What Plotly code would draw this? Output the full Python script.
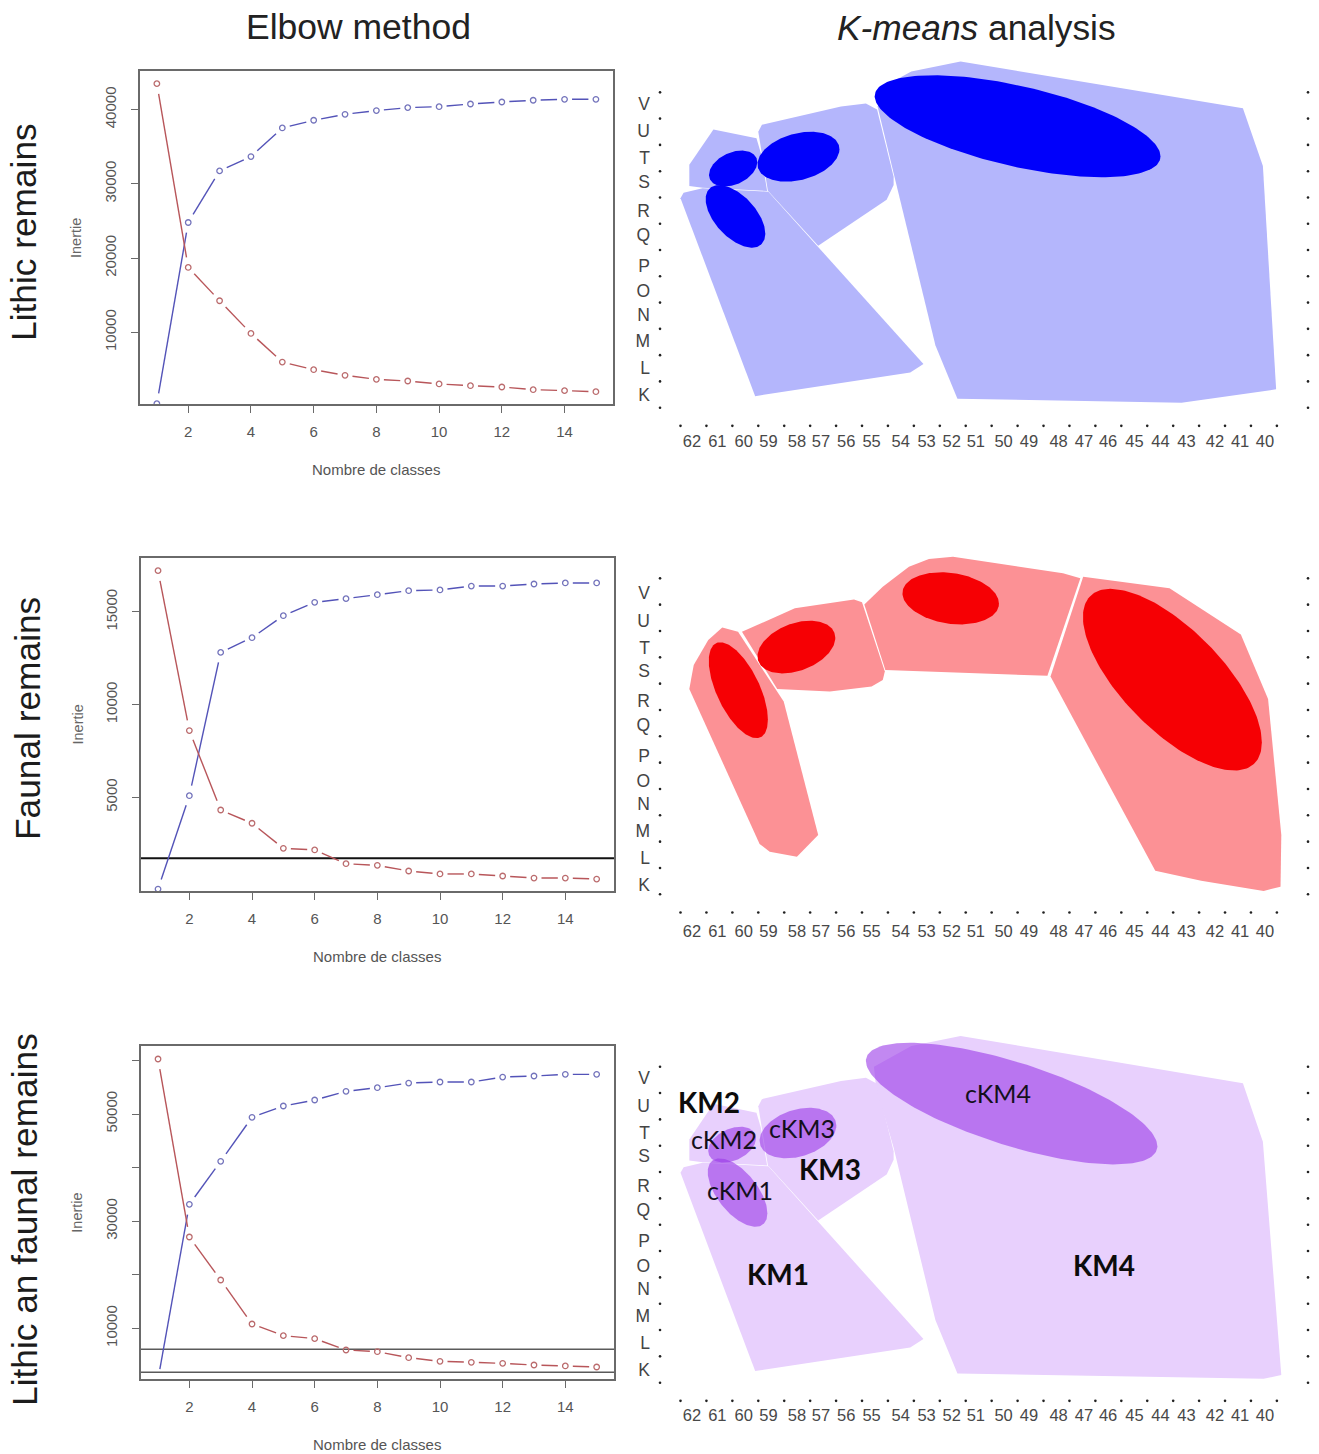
import numpy as np
import plotly.graph_objects as go

W, H = 1319, 1454

# ---------- Elbow data ----------
k = list(range(1, 16))
lithic_between = [400, 24800, 31750, 33680, 37530, 38570, 39370, 39870, 40270, 40400, 40760, 41030, 41260, 41390, 41390]
lithic_within = [43500, 18740, 14260, 9860, 6000, 4970, 4210, 3670, 3450, 3050, 2820, 2640, 2280, 2150, 2010]
faunal_between = [50, 5090, 12820, 13615, 14800, 15520, 15720, 15935, 16150, 16190, 16400, 16400, 16510, 16565, 16565]
faunal_within = [17230, 8600, 4315, 3600, 2250, 2160, 1420, 1330, 1025, 865, 865, 755, 645, 645, 590]
both_between = [490, 33140, 41170, 49380, 51490, 52610, 54230, 54910, 55780, 55970, 55970, 56900, 57090, 57400, 57400]
both_within = [60260, 27050, 19020, 10810, 8640, 8080, 5960, 5650, 4530, 3850, 3660, 3470, 3160, 2980, 2790]
faunal_cut = [1710]
both_cuts = [6090, 1795]

# ---------- Excavation grid labels ----------
col_labels = [str(c) for c in range(62, 39, -1)]
col_label_pos = [0.44, 1.42, 2.44, 3.39, 4.49, 5.42, 6.39, 7.37, 8.49, 9.49, 10.46, 11.39,
                 12.46, 13.44, 14.58, 15.56, 16.49, 17.51, 18.51, 19.51, 20.61, 21.58, 22.54]
row_labels = ["V", "U", "T", "S", "R", "Q", "P", "O", "N", "M", "L", "K"]
row_label_pos = [11.58, 10.53, 9.49, 8.6, 7.49, 6.57, 5.4, 4.45, 3.55, 2.54, 1.53, 0.48]

# ---------- Cluster hulls (grid squares: column, row) ----------
lithic_km1_x = [0, .12, .85, 3.39, 9.37, 8.86, 2.88]
lithic_km1_y = [7.97, 8.18, 8.35, 8.22, 1.66, 1.34, .44]
lithic_km2_x = [1.27, 2.93, 3.1, 3.34, .85, .34, .34]
lithic_km2_y = [10.59, 10.25, 9.68, 8.25, 8.37, 8.44, 9.24]
lithic_km3_x = [3.14, 6.19, 7.15, 7.58, 8.22, 8.22, 7.95, 5.31, 3.37, 3.0]
lithic_km3_y = [10.77, 11.46, 11.58, 11.35, 8.79, 8.47, 7.91, 6.16, 8.26, 10.5]
lithic_km4_x = [8.9, 10.8, 21.69, 22.46, 22.97, 19.32, 10.68, 9.83, 8.22, 7.6, 8.05]
lithic_km4_y = [12.79, 13.17, 11.39, 9.2, .7, .19, .34, 2.38, 8.92, 11.46, 12.34]

faunal_a_x = [1.61, 2.22, 3.98, 5.31, 4.49, 3.44, 3.05, .34, .51, 1.07]
faunal_a_y = [10.13, 9.97, 7.32, 2.25, 1.43, 1.62, 1.91, 7.8, 8.71, 9.66]
faunal_b_x = [2.37, 4.41, 6.69, 7, 7.88, 7.8, 7.37, 5.76, 3.73]
faunal_b_y = [9.97, 10.86, 11.2, 11.09, 8.46, 8.14, 7.89, 7.7, 7.8]
faunal_c_x = [7.09, 7.8, 8.81, 9.58, 10.51, 14.75, 15.42, 14.15, 7.9]
faunal_c_y = [11.01, 11.68, 12.44, 12.73, 12.82, 12.19, 12, 8.3, 8.52]
faunal_d_x = [15.53, 18.86, 21.61, 22.66, 23.17, 23.14, 22.49, 20.08, 18.31, 14.27]
faunal_d_y = [12.06, 11.62, 9.87, 7.42, 2.25, .29, .13, .51, .89, 8.27]

both_km4_x = [8.9, 10.8, 21.69, 22.46, 23.17, 22.49, 10.68, 9.83, 8.22, 7.54, 7.46]
both_km4_y = [12.79, 13.17, 11.37, 9.15, .29, .15, .35, 2.38, 8.92, 11.24, 12.0]

# Cluster cores: centre column, centre row, half extent in columns, half extent in rows, tilt
lithic_cores = [(13.0, 10.71, 5.51, 1.94, -.59), (4.55, 9.55, 1.58, .95, .3),
                (2.03, 9.1, .93, .685, .35), (2.12, 7.28, 1.15, 1.19, -.55)]
faunal_cores = [(10.42, 11.24, 1.86, .99, -.2), (4.47, 9.39, 1.5, 1.0, .35),
                (2.23, 7.75, 1.14, 1.82, -.61), (18.97, 8.15, 3.45, 3.45, -.69)]
both_cores = [(12.77, 10.6, 5.62, 2.31, -.7), (4.53, 9.48, 1.48, .96, .3),
              (1.99, 9.04, .92, .68, .35), (2.2, 7.22, 1.15, 1.3, -.6)]

# Cluster names in the combined map: text, column, row
km_names = [("KM1", 3.76, 4.13), ("KM2", 1.10, 10.67), ("KM3", 5.78, 8.1), ("KM4", 16.32, 4.47)]
ckm_names = [("cKM1", 2.29, 7.32), ("cKM2", 1.68, 9.25), ("cKM3", 4.69, 9.69), ("cKM4", 12.24, 11.0)]

# ---------- helpers ----------
def px(x):
    return x / W

def py(y):
    return 1 - y / H

SANS = "Liberation Sans"
fig = go.Figure()
ann = []

def note(x, y, text, size, color, angle=0, family=SANS):
    ann.append(dict(xref="paper", yref="paper", x=px(x), y=py(y), text=text, showarrow=False,
                    xanchor="center", yanchor="middle", textangle=angle,
                    font=dict(family=family, size=size, color=color)))

def elbow(idx, box, xr, yr, yticks, ylabeled, between, within, cuts, cut_style, hide_first):
    xa, ya = f"x{idx}", f"y{idx}"
    l, r, t, b = box
    sx = (r - l) / (xr[1] - xr[0])
    sy = (b - t) / (yr[1] - yr[0])

    def type_b(values):
        xs, ys = [], []
        for i in range(len(k) - 1):
            dx, dy = k[i + 1] - k[i], values[i + 1] - values[i]
            f = 1 / np.hypot(dx * sx / 7.5, dy * sy / 10.5)
            if f < .5:
                xs += [k[i] + f * dx, k[i + 1] - f * dx, None]
                ys += [values[i] + f * dy, values[i + 1] - f * dy, None]
        return xs, ys

    for v in cuts:
        fig.add_trace(go.Scatter(x=list(xr), y=[v, v], mode="lines", xaxis=xa, yaxis=ya,
                                 line=dict(color=cut_style[0], width=cut_style[1])))
    for values, lc, mc in [(between, "#5353b8", "#7474bc"), (within, "#b8565a", "#bb6c6e")]:
        xs, ys = type_b(values)
        fig.add_trace(go.Scatter(x=xs, y=ys, mode="lines", xaxis=xa, yaxis=ya,
                                 line=dict(color=lc, width=1.4)))
        start = 1 if (hide_first and values is between) else 0
        fig.add_trace(go.Scatter(x=k[start:], y=values[start:], mode="markers", xaxis=xa, yaxis=ya,
                                 marker=dict(symbol="circle-open", size=5.5, color=mc,
                                             line=dict(width=1.3, color=mc))))
    axis_common = dict(showgrid=False, zeroline=False, showline=True, mirror=True,
                       linecolor="#6a6a6a", linewidth=1.5, ticks="outside", ticklen=7,
                       tickcolor="#6a6a6a", tickfont=dict(family=SANS, size=15, color="#555555"))
    fig.update_layout(**{
        f"xaxis{idx}": dict(domain=[px(l), px(r)], range=list(xr), anchor=ya,
                            tickvals=[2, 4, 6, 8, 10, 12, 14], ticklabelstandoff=6, **axis_common),
        f"yaxis{idx}": dict(domain=[py(b), py(t)], range=list(yr), anchor=xa,
                            tickvals=yticks,
                            ticktext=[str(v) if v in ylabeled else "" for v in yticks],
                            tickangle=-90, ticklabelstandoff=9, **axis_common),
    })

def grid_map(idx, top, bottom, row0, spacing, hulls, poly_col, cores, core_col, row_shift):
    xa, ya = f"x{idx}", f"y{idx}"
    for hx, hy in hulls:
        fig.add_trace(go.Scatter(x=hx + hx[:1], y=hy + hy[:1], mode="lines", fill="toself",
                                 fillcolor=poly_col, line=dict(width=0), xaxis=xa, yaxis=ya))
    theta = np.linspace(0, 2 * np.pi, 181)
    for cx, cy, ex, ey, tilt in cores:
        ex_x = cx + ex * np.cos(theta)
        ex_y = cy + ey * (tilt * np.cos(theta) + np.sqrt(1 - tilt ** 2) * np.sin(theta))
        fig.add_trace(go.Scatter(x=ex_x, y=ex_y, mode="lines", fill="toself", fillcolor=core_col,
                                 line=dict(width=0), xaxis=xa, yaxis=ya))
    dots_x = list(range(24)) + [-.79] * 13 + [24.2] * 13
    dots_y = [-.69] * 24 + list(range(13)) * 2
    fig.add_trace(go.Scatter(x=dots_x, y=dots_y, mode="markers", xaxis=xa, yaxis=ya,
                             marker=dict(size=2.6, color="#222222")))
    left, right = 651, 1319
    base = dict(showgrid=False, zeroline=False, showline=False, ticks="")
    fig.update_layout(**{
        f"xaxis{idx}": dict(domain=[px(left), px(right)], anchor=ya,
                            range=[(left - 680.5) / 25.93, (right - 680.5) / 25.93],
                            tickvals=col_label_pos, ticktext=col_labels, tickangle=0,
                            tickfont=dict(family=SANS, size=16.5, color="#484848"), **base),
        f"yaxis{idx}": dict(domain=[py(bottom), py(top)], anchor=xa,
                            range=[(row0 - bottom) / spacing, (row0 - top) / spacing],
                            tickvals=[p + row_shift for p in row_label_pos], ticktext=row_labels,
                            tickfont=dict(family=SANS, size=17.5, color="#444444"), **base),
    })

# ---------- panels ----------
elbow(1, (139.5, 613, 71, 404), (.446, 15.545), (351, 45203), [10000, 20000, 30000, 40000],
      [10000, 20000, 30000, 40000], lithic_between, lithic_within, [], None, False)
elbow(2, (140.8, 614.2, 558.3, 891), (.45, 15.56), (-54, 17896), [5000, 10000, 15000],
      [5000, 10000, 15000], faunal_between, faunal_within, faunal_cut, ("#111111", 2), False)
elbow(3, (140.8, 614.2, 1046, 1379.3), (.45, 15.56), (490, 62690),
      [10000, 20000, 30000, 40000, 50000, 60000], [10000, 30000, 50000],
      both_between, both_within, both_cuts, ("#5a5a5a", 1.5), True)

lithic_hulls = [(lithic_km1_x, lithic_km1_y), (lithic_km2_x, lithic_km2_y),
                (lithic_km3_x, lithic_km3_y), (lithic_km4_x, lithic_km4_y)]
faunal_hulls = [(faunal_a_x, faunal_a_y), (faunal_b_x, faunal_b_y),
                (faunal_c_x, faunal_c_y), (faunal_d_x, faunal_d_y)]
both_hulls = lithic_hulls[:3] + [(both_km4_x, both_km4_y)]

grid_map(4, 55, 429, 407.7, 26.28, lithic_hulls, "#b4b6fc", lithic_cores, "#0000fb", 0)
grid_map(5, 545, 919, 894.3, 26.33, faunal_hulls, "#fc9195", faunal_cores, "#f60004", -.13)
grid_map(6, 1030, 1403, 1382.7, 26.33, both_hulls, "#e8d0fd", both_cores, "rgba(154,56,231,0.6)", 0)

for name, gx, gy in km_names:
    ann.append(dict(xref="x6", yref="y6", x=gx, y=gy, text=f"<b>{name}</b>", showarrow=False,
                    font=dict(family="Lato", size=28, color="#0c0c0c")))
for name, gx, gy in ckm_names:
    ann.append(dict(xref="x6", yref="y6", x=gx, y=gy, text=name, showarrow=False,
                    font=dict(family="Lato", size=25, color="#14101c")))

note(358, 27, "Elbow method", 35.5, "#222222")
note(976, 27, "<i>K-means</i> analysis", 35.3, "#222222")
note(24, 232, "Lithic remains", 35.3, "#1c1c1c", -90)
note(28, 719, "Faunal remains", 35.3, "#1c1c1c", -90)
note(24, 1220, "Lithic an faunal remains", 35.3, "#1c1c1c", -90)
for x, y in [(76, 238), (77.5, 725), (77, 1212.7)]:
    note(x, y, "Inertie", 14.5, "#666666", -90)
for x, y in [(375.5, 469), (376.7, 956.7), (376.7, 1444)]:
    note(x, y, "Nombre de classes", 15, "#555555")

fig.update_layout(width=W, height=H, autosize=False, showlegend=False, hovermode=False,
                  margin=dict(l=0, r=0, t=0, b=0), paper_bgcolor="white", plot_bgcolor="white",
                  annotations=ann)
fig.write_html("out.html", post_script="document.body.style.margin='0';",
               config={"displayModeBar": False})
